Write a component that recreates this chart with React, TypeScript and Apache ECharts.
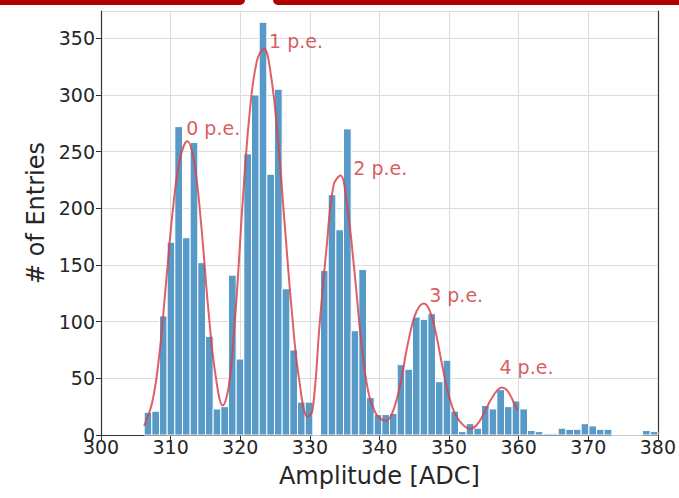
import React, { useEffect, useRef } from "react";
import * as echarts from "echarts";

// Histogram: uniform bins starting at binStart with width binWidth (ADC)
const binStart = 306.2;
const binWidth = 1.1015;
const counts = [
  20, 21, 105, 170, 272, 174, 258, 152, 87, 23,
  25, 141, 67, 248, 300, 364, 230, 305, 129, 75,
  29, 29, 0, 145, 212, 181, 270, 92, 146, 33,
  18, 18, 19, 62, 58, 104, 102, 107, 47, 66,
  21, 3, 10, 6, 26, 23, 40, 25, 30, 23,
  4, 3, 1, 1, 6, 5, 5, 10, 8, 5,
  5, 0, 0, 0, 0, 4, 3,
];

// Fit curve points
const fitX = [
  306.2, 307.4, 308.4, 309.4, 310.4, 311.4, 312.4, 313.4, 314.4, 315.4, 316.4, 317.5,
  318.4, 319.4, 320.4, 321.4, 322.4, 323.4, 324.4, 325.4, 326.4, 327.4, 328.4, 329.7,
  330.4, 331.4, 332.4, 333.4, 334.4, 335.4, 336.4, 337.4, 338.4, 339.4, 340.2, 341.0,
  342.0, 343.0, 344.0, 345.0, 345.8, 346.4, 347.2, 348.0, 349.0, 350.0, 351.0, 352.0, 353.0,
  354.0, 355.0, 356.0, 357.0, 357.6, 358.4, 359.2, 359.8,
];
const fitY = [
  8, 30, 72, 138, 203, 245, 259, 240, 185, 112, 55, 26,
  45, 115, 210, 287, 330, 341, 318, 262, 185, 110, 52, 16,
  22, 97, 165, 220, 229, 200, 145, 82, 38, 20, 14, 12.6,
  22, 45, 78, 104, 114, 116, 110, 93, 62, 34, 17, 9, 5.5,
  9, 19, 31, 40, 42, 39, 30, 22,
];

const peakLabels = ["0 p.e.", "1 p.e.", "2 p.e.", "3 p.e.", "4 p.e."];
const peakLabelX = [312.1, 324.0, 336.1, 347.0, 357.1];
const peakLabelY = [270.7, 347.6, 235.4, 123.5, 60];

const X_MIN = 300;
const X_MAX = 380;
const X_STEP = 10;
const Y_MIN = 0;
const Y_MAX = 374;
const Y_STEP = 50;

const FONT = "DejaVu Sans";
const TXT = "#262626";

export default function App() {
  const ref = useRef<HTMLDivElement>(null);
  useEffect(() => {
    if (!ref.current) return;
    const chart = echarts.init(ref.current, null, { renderer: "svg" });
    const bars = counts.map((c, i) => [
      binStart + i * binWidth,
      binStart + (i + 1) * binWidth,
      c,
    ]);
    const fit = fitX.map((x, i) => [x, fitY[i]]);
    const labels = peakLabels.map((t, i) => ({
      value: [peakLabelX[i], peakLabelY[i]],
      name: t,
    }));
    chart.setOption({
      animation: false,
      backgroundColor: "#ffffff",
      grid: { left: 101, right: 21, top: 11, bottom: 63 },
      graphic: [
        {
          type: "rect",
          shape: { x: 0, y: 0, width: 245, height: 5, r: [0, 0, 5, 0] },
          style: { fill: "#b00000" },
          silent: true,
        },
        {
          type: "rect",
          shape: { x: 273, y: 0, width: 406, height: 5, r: [0, 0, 0, 5] },
          style: { fill: "#b00000" },
          silent: true,
        },
      ],
      xAxis: {
        type: "value",
        min: X_MIN,
        max: X_MAX,
        interval: X_STEP,
        name: "Amplitude [ADC]",
        nameLocation: "middle",
        nameGap: 29,
        nameTextStyle: { fontFamily: FONT, fontSize: 24, color: TXT },
        axisLine: { show: true, lineStyle: { color: "#333333", width: 1.2 } },
        axisTick: { show: true, length: 5, lineStyle: { color: "#333333" } },
        axisLabel: { fontFamily: FONT, fontSize: 19, color: TXT, margin: 2 },
        splitLine: { show: true, lineStyle: { color: "#dcdcdc", width: 1 } },
      },
      yAxis: [
        {
          type: "value",
          min: Y_MIN,
          max: Y_MAX,
          interval: Y_STEP,
          name: "# of Entries",
          nameLocation: "middle",
          nameGap: 52,
          nameTextStyle: {
            fontFamily: FONT,
            fontSize: 24,
            color: TXT,
            padding: [0, 0, 0, 20],
          },
          axisLine: { show: true, lineStyle: { color: "#333333", width: 1.2 } },
          axisTick: { show: true, length: 5, lineStyle: { color: "#333333" } },
          axisLabel: {
            fontFamily: FONT,
            fontSize: 19,
            color: TXT,
            margin: 6,
            showMaxLabel: false,
          },
          splitLine: { show: true, lineStyle: { color: "#dcdcdc", width: 1 } },
        },
        {
          type: "value",
          min: Y_MIN,
          max: Y_MAX,
          position: "right",
          axisLine: { show: true, lineStyle: { color: "#333333", width: 1.2 } },
          axisTick: { show: false },
          axisLabel: { show: false },
          splitLine: { show: false },
        },
      ],
      series: [
        {
          type: "custom",
          name: "hist",
          data: bars,
          encode: { x: [0, 1], y: 2 },
          z: 2,
          renderItem: (params: any, api: any) => {
            const x0 = api.value(0);
            const x1 = api.value(1);
            const v = api.value(2);
            const p0 = api.coord([x0, v]);
            const p1 = api.coord([x1, 0]);
            return {
              type: "rect",
              shape: {
                x: p0[0],
                y: p0[1],
                width: p1[0] - p0[0],
                height: p1[1] - p0[1],
              },
              style: { fill: "#5799c7", stroke: "#ffffff", lineWidth: 1 },
            };
          },
        },
        {
          type: "line",
          name: "fit",
          data: fit,
          showSymbol: false,
          smooth: 0.4,
          z: 3,
          lineStyle: { color: "#d9444b", width: 2, opacity: 0.85 },
        },
        {
          type: "scatter",
          name: "labels",
          data: labels,
          symbolSize: 2,
          itemStyle: { color: "rgba(255,255,255,0)" },
          z: 4,
          label: {
            show: true,
            position: "right",
            distance: 0,
            formatter: (p: any) => p.name,
            fontFamily: FONT,
            fontSize: 19,
            color: "#cf3035",
          },
        },
      ],
    });
    return () => chart.dispose();
  }, []);
  return (
    <div
      ref={ref}
      style={{
        position: "absolute",
        left: 0,
        top: 0,
        width: 679,
        height: 498,
        background: "#ffffff",
      }}
    />
  );
}
